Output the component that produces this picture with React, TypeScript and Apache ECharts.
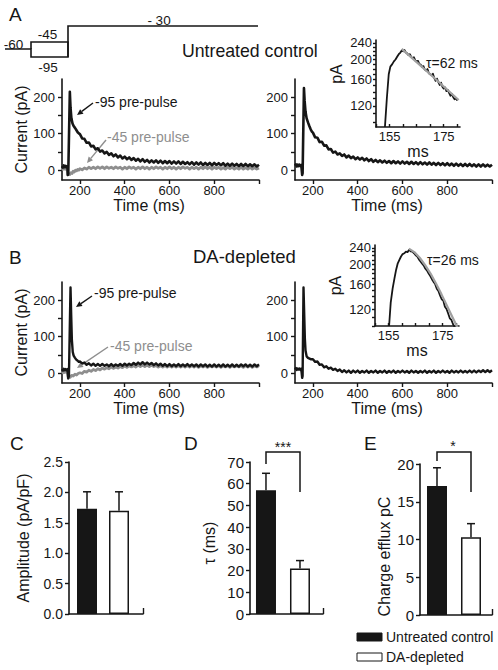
import React, { useEffect, useRef } from "react";
import * as echarts from "echarts";

const FONT = '"Liberation Sans", Arial, Helvetica, sans-serif';
const INK = "#161616";
const GREY = "#8e8e8e";
const FIT = "#a0a0a0";

// ---------- Panels A/B: current traces [time (ms), current (pA)] ----------
const TIME_TICKS = [200, 400, 600, 800, 1000];
const TIME_LABELS = [200, 400, 600, 800];
const CURRENT_TICKS = [0, 50, 100, 150, 200];
const CURRENT_LABELS = [0, 100, 200];

const TAIL_T = [
  200, 210, 220, 230, 240, 250, 260, 270, 280, 290,
  300, 310, 320, 330, 340, 350, 360, 370, 380, 390,
  400, 410, 420, 430, 440, 450, 460, 470, 480, 490,
  500, 510, 520, 530, 540, 550, 560, 570, 580, 590,
  600, 610, 620, 630, 640, 650, 660, 670, 680, 690,
  700, 710, 720, 730, 740, 750, 760, 770, 780, 790,
  800, 810, 820, 830, 840, 850, 860, 870, 880, 890,
  900, 910, 920, 930, 940, 950, 960, 970, 980, 990,
  1000,
];

// A, untreated control, -95 pre-pulse (black)
const A_L95_HEAD = [[120, 11], [124, 7], [128, 13], [132, 8], [136, 12], [140, 8], [144, 11], [146, -13], [148, -10], [155, 215], [158, 172], [162, 142], [167, 128], [172, 121], [178, 116], [184, 110], [190, 104], [195, 101]];
const A_L95_TAIL = [
  99, 87, 86, 75, 76, 65, 67, 57, 60, 51,
  54, 46, 50, 42, 46, 38, 43, 35, 40, 32,
  37, 30, 35, 28, 33, 26, 31, 24, 30, 23,
  28, 21, 27, 21, 27, 20, 26, 19, 25, 19,
  25, 18, 24, 18, 24, 17, 23, 17, 22, 16,
  22, 15, 21, 15, 21, 14, 20, 14, 20, 13,
  20, 14, 19, 13, 19, 12, 18, 12, 18, 12,
  17, 11, 17, 11, 17, 11, 16, 11, 16, 10,
  15,
];
// A, -45 pre-pulse (grey)
const A_L45_HEAD = [[120, 6], [124, 2], [128, 7], [132, 3], [136, 6], [140, 2], [144, 5], [146, -13], [150, -10], [155, -12], [160, -7], [165, -9], [170, -3], [175, -5], [180, 0], [185, -2], [190, 2], [195, 0]];
const A_L45_TAIL = [
  4, 1, 6, 3, 8, 4, 8, 4, 9, 5,
  9, 4, 9, 5, 8, 4, 9, 5, 8, 3,
  8, 4, 9, 5, 8, 3, 8, 4, 9, 4,
  8, 3, 8, 4, 9, 5, 8, 3, 8, 4,
  9, 4, 8, 3, 8, 4, 9, 5, 8, 3,
  8, 4, 8, 3, 8, 4, 9, 4, 8, 3,
  8, 4, 8, 3, 7, 3, 8, 4, 8, 3,
  7, 3, 8, 3, 7, 3, 8, 3, 7, 3,
  6,
];
// A, right trace (black)
const A_R_HEAD = [[120, 12], [124, 16], [128, 10], [132, 15], [136, 11], [140, 15], [144, 11], [148, 14], [152, -13], [154, -8], [160, 225], [163, 190], [167, 160], [172, 142], [178, 131], [184, 121], [190, 112], [195, 106]];
const A_R_TAIL = [
  103, 90, 89, 77, 78, 67, 68, 57, 58, 48,
  51, 43, 46, 39, 43, 35, 40, 33, 37, 30,
  35, 29, 34, 27, 32, 25, 30, 23, 28, 22,
  27, 21, 26, 20, 25, 19, 25, 19, 24, 18,
  24, 18, 23, 17, 23, 17, 22, 16, 22, 16,
  21, 15, 21, 15, 20, 14, 20, 14, 19, 13,
  19, 13, 18, 12, 18, 12, 17, 11, 17, 11,
  17, 11, 16, 10, 16, 10, 16, 10, 15, 10,
  15,
];
// B, DA-depleted, -95 pre-pulse (black)
const B_L95_HEAD = [[120, 11], [124, 7], [128, 12], [132, 8], [136, 11], [140, 8], [144, 11], [148, -14], [151, -8], [158, 235], [161, 160], [164, 92], [168, 58], [172, 48], [178, 42], [184, 37], [190, 34], [195, 31]];
const B_L95_TAIL = [
  32, 27, 29, 23, 27, 21, 26, 20, 25, 20,
  25, 20, 24, 19, 25, 19, 24, 20, 25, 20,
  26, 21, 26, 22, 28, 23, 29, 24, 30, 24,
  29, 24, 28, 22, 27, 21, 26, 20, 25, 19,
  25, 19, 24, 19, 25, 19, 24, 19, 25, 19,
  24, 19, 24, 18, 24, 19, 24, 18, 23, 18,
  24, 18, 23, 18, 24, 18, 23, 18, 24, 18,
  23, 18, 24, 19, 24, 18, 23, 18, 24, 19,
  24,
];
// B, -45 pre-pulse (grey)
const B_L45_HEAD = [[120, 5], [124, 1], [128, 6], [132, 2], [136, 5], [140, 2], [144, 5], [148, -14], [152, -9], [157, -11], [163, -6], [170, -8], [178, -3], [185, -5], [192, -1]];
const B_L45_TAIL = [
  1, -1, 5, 3, 8, 5, 10, 7, 12, 9,
  14, 11, 15, 12, 17, 13, 17, 14, 18, 15,
  20, 16, 20, 17, 21, 17, 22, 18, 22, 18,
  22, 18, 22, 18, 21, 17, 21, 17, 21, 17,
  21, 17, 21, 17, 21, 17, 21, 17, 21, 17,
  21, 17, 21, 16, 20, 17, 21, 16, 20, 17,
  21, 17, 21, 16, 20, 17, 21, 16, 20, 17,
  21, 17, 20, 16, 21, 17, 21, 16, 20, 17,
  21,
];
// B, right trace (black)
const B_R_HEAD = [[120, 10], [124, 14], [128, 9], [132, 13], [136, 10], [140, 13], [144, 9], [148, 12], [152, -13], [154, -8], [158, 235], [161, 165], [164, 95], [167, 62], [172, 46], [178, 42], [185, 40], [192, 38]];
const B_R_TAIL = [
  38, 31, 32, 23, 24, 16, 19, 12, 15, 9,
  12, 6, 10, 3, 8, 2, 7, 1, 7, 2,
  7, 1, 6, 2, 7, 1, 6, 2, 7, 1,
  6, 2, 7, 1, 6, 2, 7, 1, 6, 2,
  7, 2, 6, 1, 7, 2, 6, 1, 6, 2,
  7, 1, 6, 2, 7, 1, 6, 2, 7, 2,
  6, 1, 7, 2, 6, 2, 7, 2, 6, 2,
  7, 2, 7, 2, 7, 3, 8, 3, 8, 3,
  8,
];

// ---------- Insets (log current axis) ----------
const INSET_T_TICKS = [150, 155, 160, 165, 170, 175, 180];
const INSET_T_LABELS = [155, 175];
const INSET_PA_TICKS = [100, 110, 120, 130, 140, 150, 160, 170, 180, 190, 200, 210, 220, 230, 240];
const INSET_PA_LABELS = [120, 160, 200, 240];

const A_INSET = [[153.3, 95], [154, 130], [154.7, 170], [155.3, 185], [156, 190], [156.6, 196], [157.2, 200], [157.8, 206], [158.4, 212], [159, 216], [159.5, 221], [160, 219], [160.5, 222], [161, 216], [161.5, 214], [162, 210], [162.5, 212], [163, 206], [163.5, 203], [164, 205], [164.5, 198], [165, 196], [165.5, 197], [166, 190], [166.5, 189], [167, 184], [167.5, 186], [168, 179], [168.5, 177], [169, 180], [169.5, 172], [170, 170], [170.5, 168], [171, 171], [171.5, 163], [172, 158], [172.5, 162], [173, 156], [173.5, 151], [174, 155], [174.5, 148], [175, 145], [175.5, 147], [176, 141], [176.5, 143], [177, 138], [177.5, 134], [178, 137], [178.5, 132], [179, 129], [179.5, 131], [180, 127]];
const A_FIT = [[159.5, 225], [170, 170], [180.5, 128]];
const B_INSET = [[155.2, 100], [155.8, 130], [156.5, 152], [157.2, 171], [157.8, 188], [158.4, 202], [159, 210], [159.6, 218], [160.2, 224], [160.8, 226], [161.4, 230], [162, 229], [162.6, 235], [163.2, 231], [163.8, 230], [164.4, 226], [165, 221], [165.6, 218], [166.2, 211], [166.8, 206], [167.4, 201], [168, 197], [168.6, 190], [169.2, 186], [169.8, 180], [170.4, 175], [171, 169], [171.6, 164], [172.2, 160], [172.8, 152], [173.4, 148], [174, 141], [174.6, 135], [175.2, 133], [175.8, 124], [176.4, 121], [177, 115], [177.6, 109], [178.2, 107], [178.8, 102], [179.4, 99]];
const B_FIT = [[162.5, 238], [164.5, 229], [166.5, 215], [168.5, 198], [170.5, 180], [172.5, 161], [174.5, 143], [176.5, 126], [178.5, 111], [180.5, 98]];

// ---------- Panels C-E: bars ----------
const GROUPS = ["Untreated control", "DA-depleted"];
const AMP_MEAN = [1.73, 1.7];
const AMP_SEM = [0.28, 0.31];
const TAU_MEAN = [57, 21];
const TAU_SEM = [7.8, 3.6];
const CHARGE_MEAN = [17.1, 10.3];
const CHARGE_SEM = [2.4, 1.8];

const txt = (size: number, color = INK) => ({ color, fontFamily: FONT, fontSize: size });
const axisLine = { show: true, onZero: false, lineStyle: { color: INK, width: 1.6 } };
const tickLine = { color: INK, width: 1.4 };

const join = (head: number[][], tail: number[]) => [...head, ...TAIL_T.map((t, i) => [t, tail[i]])];
const logData = (d: number[][]) => d.map(([t, v]) => [t, Math.log(v)]);

function mainX(gridIndex: number, shift: number) {
  return {
    gridIndex, type: "value", min: 120, max: 1000,
    axisLine,
    axisTick: { show: true, customValues: TIME_TICKS, length: 4, lineStyle: tickLine },
    axisLabel: { show: true, customValues: TIME_LABELS, margin: 4, ...txt(13) },
    splitLine: { show: false },
    name: "Time (ms)", nameLocation: "middle", nameGap: 17,
    nameTextStyle: { ...txt(16), padding: [0, shift, 0, 0] },
  };
}
function mainY(gridIndex: number, withName: boolean) {
  return {
    gridIndex, type: "value", min: -27, max: 250,
    axisLine,
    axisTick: { show: true, customValues: CURRENT_TICKS, length: 4, lineStyle: tickLine },
    axisLabel: { show: true, customValues: CURRENT_LABELS, margin: 7, ...txt(13) },
    splitLine: { show: false },
    name: withName ? "Current (pA)" : "", nameLocation: "middle", nameRotate: 90, nameGap: 33,
    nameTextStyle: txt(16),
  };
}
function insetX(gridIndex: number, gap: number) {
  return {
    gridIndex, type: "value", min: 150, max: 181,
    axisLine,
    axisTick: { show: true, customValues: INSET_T_TICKS, inside: true, length: 3, lineStyle: tickLine },
    axisLabel: { show: true, customValues: INSET_T_LABELS, margin: 3, ...txt(13) },
    splitLine: { show: false },
    name: "ms", nameLocation: "middle", nameGap: gap, nameTextStyle: txt(16),
  };
}
function insetY(gridIndex: number, lo: number, shiftUp: number) {
  return {
    gridIndex, type: "value", min: Math.log(lo), max: Math.log(248),
    axisLine,
    axisTick: { show: true, customValues: INSET_PA_TICKS.map((v) => Math.log(v)), length: 3, lineStyle: tickLine },
    axisLabel: {
      show: true, customValues: INSET_PA_LABELS.map((v) => Math.log(v)), margin: 4, ...txt(13),
      formatter: (v: number) => String(Math.round(Math.exp(v))),
    },
    splitLine: { show: false },
    name: "pA", nameLocation: "middle", nameRotate: 90, nameGap: 32,
    nameTextStyle: { ...txt(16), padding: [0, 0, 0, shiftUp] },
  };
}
function barX(gridIndex: number, min: number, max: number) {
  return {
    gridIndex, type: "value", min, max,
    axisLine,
    axisTick: { show: true, customValues: [max], inside: true, length: 6, lineStyle: tickLine },
    axisLabel: { show: false },
    splitLine: { show: false },
  };
}
function barY(gridIndex: number, max: number, interval: number, digits: number, name: string, gap: number, shiftDown: number, size: number) {
  return {
    gridIndex, type: "value", min: 0, max, interval,
    axisLine,
    axisTick: { show: true, length: 4, lineStyle: tickLine },
    axisLabel: { show: true, margin: 6, ...txt(size), formatter: (v: number) => v.toFixed(digits) },
    splitLine: { show: false },
    name, nameLocation: "middle", nameRotate: 90, nameGap: gap,
    nameTextStyle: { ...txt(16), padding: [0, shiftDown, 0, 0] },
  };
}

function trace(idx: number, data: number[][], color: string, width: number) {
  return {
    type: "line", xAxisIndex: idx, yAxisIndex: idx, data,
    showSymbol: false, symbol: "none", silent: true,
    lineStyle: { color, width, join: "round" }, z: 3,
  };
}
function bars(idx: number, means: number[]) {
  return {
    type: "bar", name: "bars" + idx, xAxisIndex: idx, yAxisIndex: idx, barWidth: 20,
    silent: true,
    data: means.map((v, i) => ({
      name: GROUPS[i], value: [i, v],
      itemStyle: { color: i === 0 ? INK : "#ffffff", borderColor: INK, borderWidth: 1.5 },
    })),
  };
}
function errs(idx: number, means: number[], sems: number[]) {
  return {
    type: "custom", xAxisIndex: idx, yAxisIndex: idx, silent: true, z: 1,
    data: means.map((v, i) => [i, v, sems[i]]),
    encode: { x: 0, y: 1 },
    renderItem: (_p: any, api: any) => {
      const x = api.value(0), v = api.value(1), e = api.value(2);
      const a = api.coord([x, v]);
      const b = api.coord([x, v + e]);
      const st = { stroke: INK, lineWidth: 1.5 };
      return {
        type: "group",
        children: [
          { type: "line", shape: { x1: a[0], y1: a[1], x2: b[0], y2: b[1] }, style: st },
          { type: "line", shape: { x1: b[0] - 4, y1: b[1], x2: b[0] + 4, y2: b[1] }, style: st },
        ],
      };
    },
  };
}

const gtext = (text: string, x: number, y: number, size: number, fill = INK, align = "left") => ({
  type: "text", x, y, silent: true,
  style: { text, fill, font: `${size}px ${FONT}`, align, verticalAlign: "middle", textAlign: align, textVerticalAlign: "middle" },
});
const gline = (pts: number[][], stroke = INK, w = 1.5) => ({
  type: "polyline", silent: true, shape: { points: pts }, style: { stroke, lineWidth: w, fill: null },
});
const arrow = (from: number[], to: number[], color: string) => {
  const dx = to[0] - from[0], dy = to[1] - from[1];
  const n = Math.hypot(dx, dy), ux = dx / n, uy = dy / n;
  const bx = to[0] - 6 * ux, by = to[1] - 6 * uy;
  const px = -uy * 2.8, py = ux * 2.8;
  return [
    gline([from, [bx, by]], color, 1.4),
    { type: "polygon", silent: true, shape: { points: [to, [bx + px, by + py], [bx - px, by - py]] }, style: { fill: color } },
  ];
};

function buildOption() {
  const graphic: any[] = [
    // panel letters
    gtext("A", 9, 14, 19), gtext("B", 9, 257, 19), gtext("C", 10, 443, 19), gtext("D", 184, 443, 19), gtext("E", 364, 443, 19),
    // voltage protocol
    gline([[5, 49], [31, 49], [31, 57], [68, 57], [68, 26], [258, 26]], INK, 1.6),
    gline([[31, 49], [31, 42], [68, 42], [68, 57]], INK, 1.6),
    gtext("-60", 13.5, 44, 13.5, INK, "center"),
    gtext("-45", 47.5, 34, 13.5, INK, "center"),
    gtext("-95", 48, 67, 13.5, INK, "center"),
    gtext("- 30", 159, 20, 13.5, INK, "center"),
    gtext("Untreated control", 182, 51, 17.7),
    gtext("DA-depleted", 193, 256, 18.5),
    // trace labels
    gtext("-95 pre-pulse", 95, 102, 14),
    gtext("-45 pre-pulse", 107, 137, 14, GREY),
    gtext("-95 pre-pulse", 94, 293, 14),
    gtext("-45 pre-pulse", 110, 346, 14, GREY),
    ...arrow([93, 103], [77, 115], INK),
    ...arrow([106, 140], [87, 163], GREY),
    ...arrow([92, 296], [76, 307], INK),
    ...arrow([108, 347], [77, 368], GREY),
    // tau
    gtext("τ=62 ms", 426, 63, 14),
    gtext("τ=26 ms", 427, 260, 14),
    // significance
    gline([[266, 464], [266, 452], [300, 452], [300, 492]], INK, 1.5),
    gtext("***", 283, 447, 14, INK, "center"),
    gline([[437, 461], [437, 452], [471, 452], [471, 492]], INK, 1.5),
    gtext("*", 453, 446, 14, INK, "center"),
    // legend
    { type: "rect", silent: true, shape: { x: 357, y: 633, width: 25, height: 8 }, style: { fill: INK, stroke: INK, lineWidth: 1 } },
    gtext("Untreated control", 386, 637, 14),
    { type: "rect", silent: true, shape: { x: 357, y: 653, width: 25, height: 8 }, style: { fill: "#fff", stroke: INK, lineWidth: 1 } },
    gtext("DA-depleted", 386, 657, 14),
  ];

  return {
    animation: false,
    backgroundColor: "#ffffff",
    textStyle: { fontFamily: FONT },
    grid: [
      { left: 62, top: 79, width: 197, height: 101 },
      { left: 295, top: 79, width: 197, height: 101 },
      { left: 376, top: 40, width: 84, height: 87 },
      { left: 62, top: 282, width: 197, height: 101 },
      { left: 295, top: 282, width: 197, height: 101 },
      { left: 375, top: 245, width: 84, height: 81 },
      { left: 69, top: 462, width: 74, height: 152 },
      { left: 250, top: 462, width: 73, height: 152 },
      { left: 420, top: 464, width: 72, height: 151 },
    ],
    xAxis: [
      mainX(0, 23), mainX(1, 13), insetX(2, 7),
      mainX(3, 23), mainX(4, 13), insetX(5, 12),
      barX(6, -0.5625, 1.75), barX(7, -0.47, 1.677), barX(8, -0.5, 1.618),
    ],
    yAxis: [
      mainY(0, true), mainY(1, false), insetY(2, 95, 19),
      mainY(3, true), mainY(4, false), insetY(5, 100, 0),
      barY(6, 2.5, 0.5, 1, "Amplitude (pA/pF)", 38, 0, 14),
      barY(7, 70, 10, 0, "τ (ms)", 33, 10, 15),
      barY(8, 20, 5, 0, "Charge efflux pC", 28, 34, 15),
    ],
    series: [
      trace(0, join(A_L45_HEAD, A_L45_TAIL), GREY, 2.8),
      trace(0, join(A_L95_HEAD, A_L95_TAIL), INK, 2.6),
      trace(1, join(A_R_HEAD, A_R_TAIL), INK, 2.6),
      trace(2, logData(A_INSET), INK, 1.8),
      trace(2, logData(A_FIT), FIT, 2.2),
      trace(3, join(B_L45_HEAD, B_L45_TAIL), GREY, 2.8),
      trace(3, join(B_L95_HEAD, B_L95_TAIL), INK, 2.4),
      trace(4, join(B_R_HEAD, B_R_TAIL), INK, 2.4),
      trace(5, logData(B_INSET), INK, 1.8),
      trace(5, logData(B_FIT), FIT, 2.2),
      errs(6, AMP_MEAN, AMP_SEM), bars(6, AMP_MEAN),
      errs(7, TAU_MEAN, TAU_SEM), bars(7, TAU_MEAN),
      errs(8, CHARGE_MEAN, CHARGE_SEM), bars(8, CHARGE_MEAN),
    ],
    graphic,
  };
}

export default function App() {
  const ref = useRef<HTMLDivElement>(null);
  useEffect(() => {
    document.body.style.margin = "0";
    const chart = echarts.init(ref.current!, null, { renderer: "svg" });
    chart.setOption(buildOption() as any);
    return () => chart.dispose();
  }, []);
  return (
    <div
      ref={ref}
      style={{ position: "absolute", left: 0, top: 0, width: 498, height: 670, background: "#fff" }}
    />
  );
}
